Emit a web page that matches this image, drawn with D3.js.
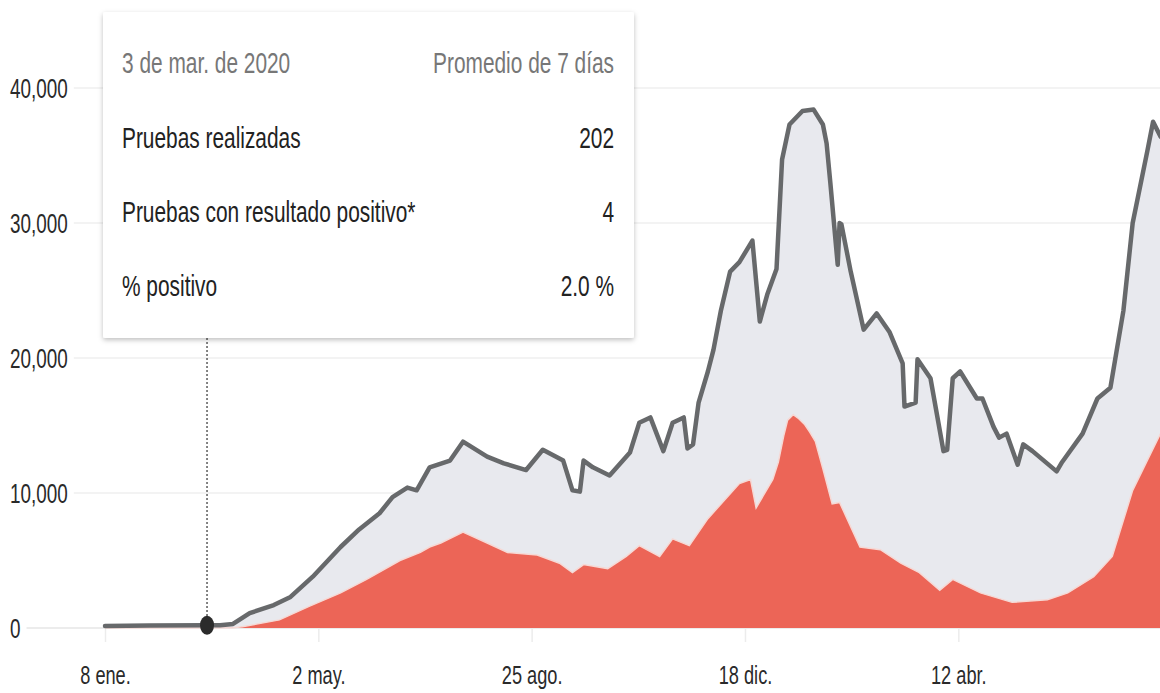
<!DOCTYPE html>
<html><head><meta charset="utf-8">
<script src="https://cdn.jsdelivr.net/npm/d3@7/dist/d3.min.js"></script>
<style>
html,body{margin:0;padding:0;background:#fff;}
svg{display:block;font-family:"Liberation Sans",Arial,sans-serif;}
</style></head>
<body><svg id="c" width="1160" height="693"></svg>
<script>
// ---- data ----
const testDates = ["2020-01-08","2020-02-01","2020-03-03","2020-03-10","2020-03-17","2020-03-26","2020-04-08","2020-04-17","2020-04-29","2020-05-14","2020-05-24","2020-06-04","2020-06-11","2020-06-19","2020-06-24","2020-07-01","2020-07-12","2020-07-19","2020-08-01","2020-08-10","2020-08-22","2020-08-31","2020-09-11","2020-09-16","2020-09-20","2020-09-22","2020-09-27","2020-10-06","2020-10-17","2020-10-22","2020-10-28","2020-11-04","2020-11-09","2020-11-15","2020-11-17","2020-11-20","2020-11-23","2020-11-28","2020-12-01","2020-12-05","2020-12-10","2020-12-15","2020-12-22","2020-12-26","2020-12-30","2021-01-04","2021-01-07","2021-01-11","2021-01-18","2021-01-24","2021-01-29","2021-01-31","2021-02-02","2021-02-06","2021-02-07","2021-02-08","2021-02-13","2021-02-20","2021-02-27","2021-03-06","2021-03-13","2021-03-14","2021-03-20","2021-03-21","2021-03-28","2021-04-04","2021-04-06","2021-04-09","2021-04-13","2021-04-22","2021-04-25","2021-05-01","2021-05-04","2021-05-08","2021-05-14","2021-05-17","2021-05-22","2021-06-04","2021-06-07","2021-06-18","2021-06-26","2021-07-03","2021-07-10","2021-07-15","2021-07-23","2021-07-26","2021-07-30"];
const testValues = [150,180,202,210,300,1100,1700,2300,3800,6000,7300,8500,9700,10400,10200,11900,12400,13800,12700,12200,11700,13200,12400,10200,10100,12400,11900,11300,13000,15200,15600,13100,15200,15600,13300,13600,16700,19000,20600,23500,26400,27100,28700,22700,24700,26600,34700,37300,38300,38400,37300,35900,33000,26900,30000,29900,26400,22100,23300,21900,19600,16400,16700,19900,18500,13100,13200,18500,19000,17000,17000,14900,14100,14400,12100,13600,13100,11600,12300,14400,17000,17800,23500,30000,35400,37500,36400];

const posDates = ["2020-01-08","2020-03-03","2020-03-17","2020-03-22","2020-04-11","2020-04-27","2020-05-14","2020-05-28","2020-06-15","2020-06-26","2020-07-01","2020-07-07","2020-07-19","2020-08-01","2020-08-12","2020-08-28","2020-09-09","2020-09-16","2020-09-22","2020-10-05","2020-10-15","2020-10-22","2020-11-02","2020-11-09","2020-11-18","2020-11-28","2020-12-15","2020-12-21","2020-12-24","2021-01-02","2021-01-05","2021-01-08","2021-01-10","2021-01-13","2021-01-16","2021-01-19","2021-01-22","2021-01-25","2021-01-29","2021-02-03","2021-02-07","2021-02-18","2021-03-01","2021-03-12","2021-03-22","2021-04-02","2021-04-09","2021-04-24","2021-05-11","2021-05-30","2021-06-10","2021-06-24","2021-07-04","2021-07-15","2021-07-30"];
const posValues = [0,4,20,100,600,1600,2600,3600,5000,5600,6000,6300,7100,6300,5600,5400,4800,4100,4700,4400,5300,6100,5300,6600,6100,8100,10700,11000,8900,11000,12300,14300,15400,15800,15500,15100,14500,13800,11800,9200,9300,6000,5800,4800,4100,2800,3600,2600,1900,2100,2600,3800,5300,10200,14400];

const xTickDates = ["2020-01-08","2020-05-02","2020-08-25","2020-12-18","2021-04-12"];
const xTickLabels = ["8 ene.","2 may.","25 ago.","18 dic.","12 abr."];
const yTickValues = [0,10000,20000,30000,40000];

const tipDate = "2020-03-03";
const tipHeader = ["3 de mar. de 2020","Promedio de 7 días"];
const tipRows = [["Pruebas realizadas","202"],["Pruebas con resultado positivo*","4"],["% positivo","2.0 %"]];

// ---- drawing ----
const W = 1160, H = 693, SX = 0.72, SXA = 0.7;
const parse = d3.utcParse("%Y-%m-%d");
const svg = d3.select("#c");
const x = d3.scaleUtc().domain([parse("2020-01-08"), parse("2021-07-30")]).range([105, 1160.5]);
const y = d3.scaleLinear().domain([0, 40000]).range([628, 88]);

const tests = testDates.map((d,i)=>({date:parse(d), v:testValues[i]}));
const pos = posDates.map((d,i)=>({date:parse(d), v:posValues[i]}));

// y axis labels + gridlines
const yAxis = d3.axisRight(y).tickValues(yTickValues).tickFormat(d3.format(",")).tickSize(0).tickPadding(0);
const gy = svg.append("g").attr("transform","translate(10,0)").call(yAxis);
gy.select(".domain").remove();
gy.selectAll("text").attr("text-anchor","start").attr("fill","#2a2a2a").attr("font-size",27)
  .attr("dy","0.36em").attr("transform",`scale(${SXA},1)`);
const grid = svg.insert("g", ":first-child");
gy.selectAll(".tick").each(function(d){
  const t = d3.select(this).select("text").node();
  const w = t.getComputedTextLength()*SXA;
  grid.append("line").attr("x1",10+w+6).attr("x2",W).attr("y1",y(d)).attr("y2",y(d))
    .attr("stroke",d===0?"#e6e6e6":"#efefef").attr("stroke-width",1.5);
});

// x axis
const xAxis = d3.axisBottom(x).tickValues(xTickDates.map(parse))
  .tickFormat((d,i)=>xTickLabels[i]).tickSizeInner(14).tickSizeOuter(0).tickPadding(24);
const gx = svg.append("g").attr("transform",`translate(0,${y(0)})`).call(xAxis);
gx.select(".domain").remove();
gx.selectAll("line").attr("stroke","#ececec").attr("stroke-width",1.5);
gx.selectAll("text").attr("fill","#2a2a2a").attr("font-size",26).attr("transform",`scale(${SXA},1)`);

// areas
const areaT = d3.area().x(d=>x(d.date)).y0(y(0)).y1(d=>y(d.v));
const areaP = d3.area().x(d=>x(d.date)).y0(y(0)).y1(d=>y(d.v));
const lineT = d3.line().x(d=>x(d.date)).y(d=>y(d.v));
const lineP = d3.line().x(d=>x(d.date)).y(d=>y(d.v));
svg.append("path").datum(tests).attr("d",areaT).attr("fill","#e8e9ee");
svg.append("path").datum(pos).attr("d",areaP).attr("fill","#ec6557");
svg.append("path").datum(pos).attr("d",lineP).attr("fill","none").attr("stroke","#f6d9d5").attr("stroke-width",1.5);
svg.append("path").datum(tests).attr("d",lineT).attr("fill","none").attr("stroke","#67696b")
  .attr("stroke-width",4.5).attr("stroke-linejoin","round").attr("stroke-linecap","round");

// hover marker
const hx = x(parse(tipDate));
const hv = testValues[testDates.indexOf(tipDate)];
svg.append("line").attr("x1",hx).attr("x2",hx).attr("y1",338).attr("y2",y(hv))
  .attr("stroke","#333").attr("stroke-width",1.2).attr("stroke-dasharray","2,2");
svg.append("ellipse").attr("cx",hx).attr("cy",y(hv)).attr("rx",7).attr("ry",9.5).attr("fill","#2b2b2b");

// tooltip
const defs = svg.append("defs");
const f = defs.append("filter").attr("id","sh").attr("x","-10%").attr("y","-10%").attr("width","120%").attr("height","120%");
f.append("feDropShadow").attr("dx",0).attr("dy",2).attr("stdDeviation",2.5).attr("flood-color","#000").attr("flood-opacity",0.25);
const tip = svg.append("g");
tip.append("rect").attr("x",103).attr("y",12).attr("width",531).attr("height",326).attr("rx",2)
  .attr("fill","#fff").attr("filter","url(#sh)");
function tt(txt, px, py, anchor, color){
  tip.append("g").attr("transform",`translate(${px},${py}) scale(${SX},1)`)
    .append("text").attr("text-anchor",anchor).attr("fill",color).attr("font-size",29).text(txt);
}
tt(tipHeader[0],122,73,"start","#777");
tt(tipHeader[1],614,73,"end","#777");
const rowY = [148,222,296];
tipRows.forEach((r,i)=>{ tt(r[0],122,rowY[i],"start","#222"); tt(r[1],614,rowY[i],"end","#222"); });
</script></body></html>
